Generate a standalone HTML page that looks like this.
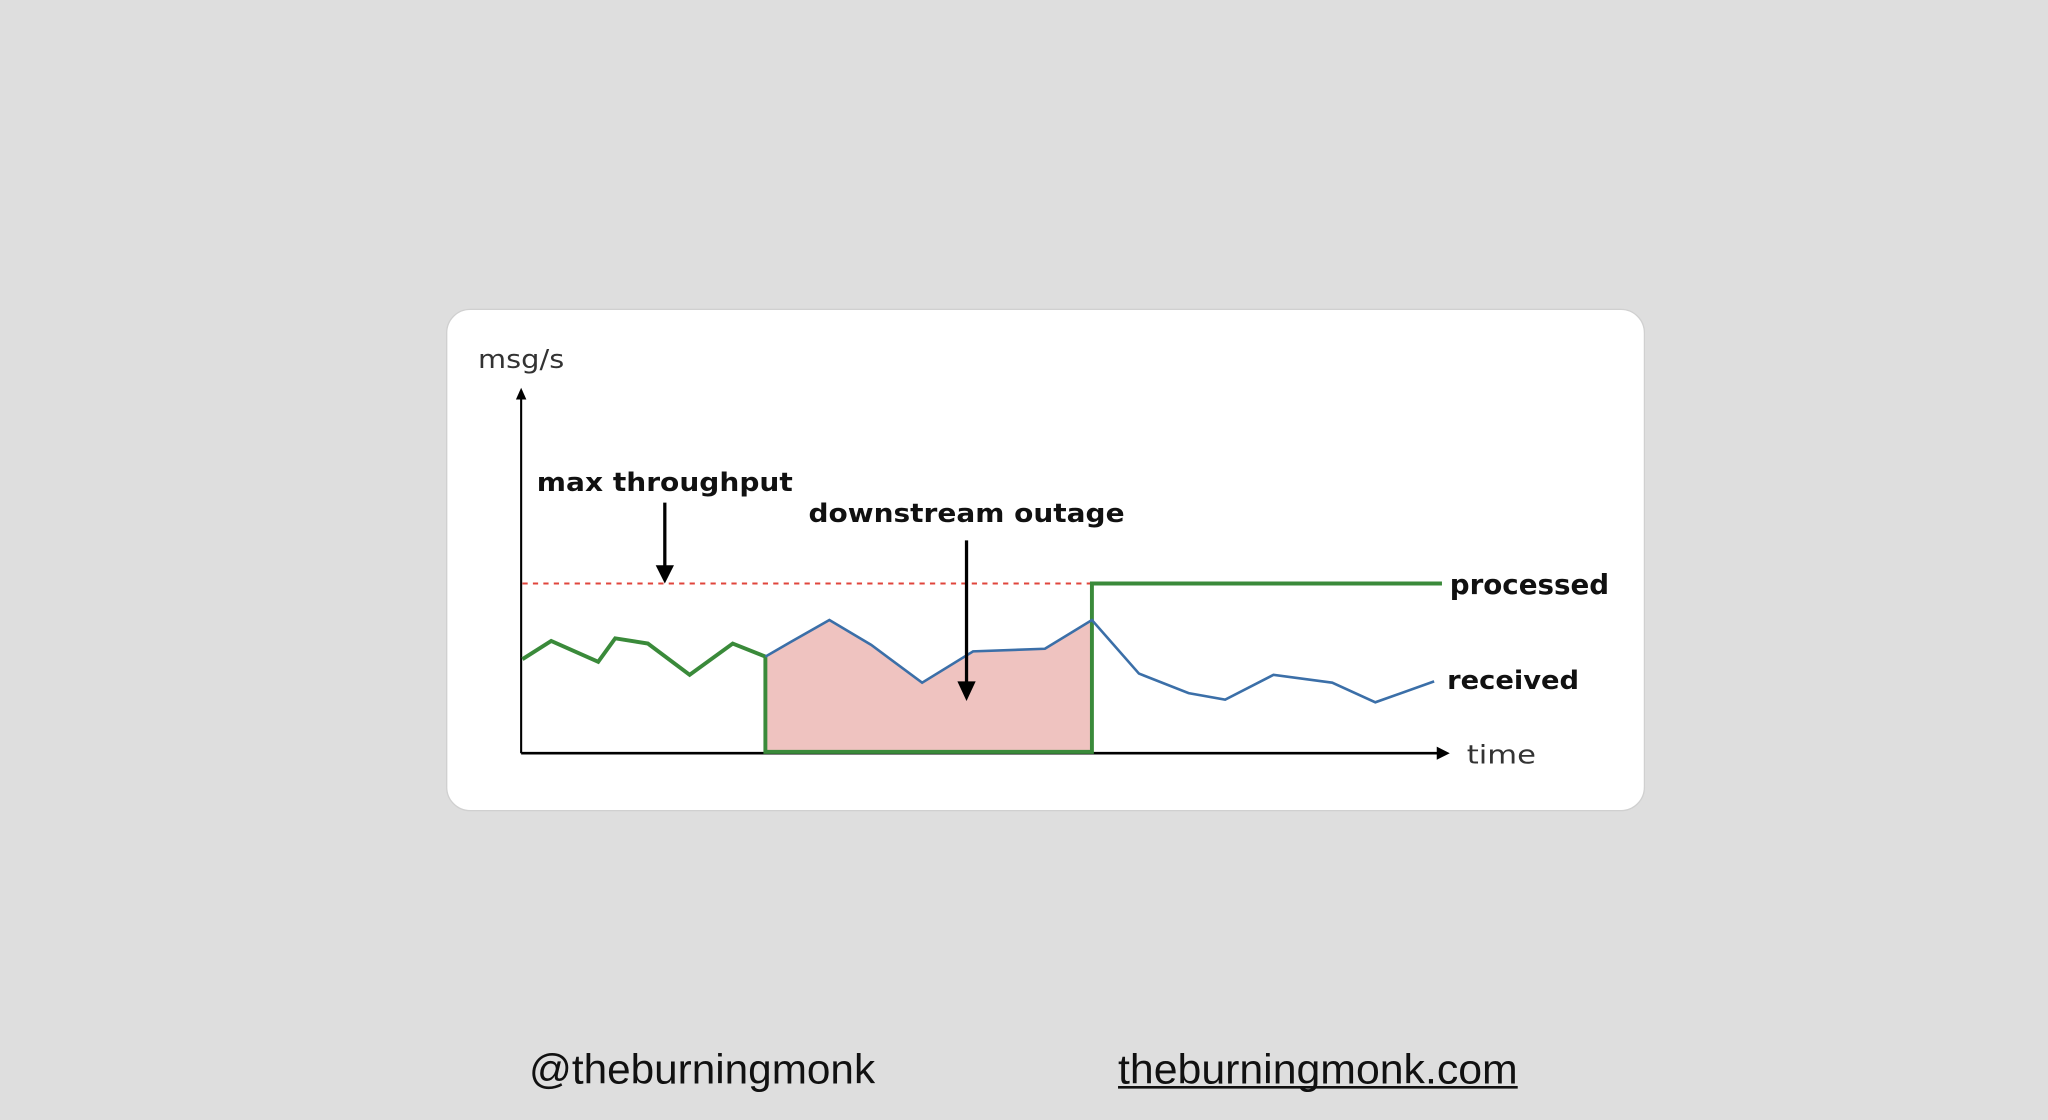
<!DOCTYPE html>
<html><head><meta charset="utf-8"><style>
html,body{margin:0;padding:0;background:#dedede;width:2048px;height:1120px;overflow:hidden}
svg{display:block}
text{font-family:"DejaVu Sans","Liberation Sans",sans-serif}
</style></head><body>
<svg width="2048" height="1120" viewBox="0 0 1568 858" preserveAspectRatio="none">
<rect x="0" y="0" width="1568" height="858" fill="#dedede"/>
<rect x="342" y="237" width="917" height="384" rx="18" fill="#ffffff" stroke="#d0d0d0" stroke-width="1"/>
<polygon points="586,503 605,492 635,475 667,494 706,523 745,499 800,497 836,475 836,577 586,577" fill="#efc3c0"/>
<line x1="399" y1="577" x2="1102" y2="577" stroke="#000" stroke-width="2"/>
<polygon points="1110,577 1100,572 1100,582" fill="#000"/>
<line x1="399" y1="577" x2="399" y2="304" stroke="#000" stroke-width="1.6"/>
<polygon points="399,297 395,306 403,306" fill="#000"/>
<line x1="400" y1="447" x2="836" y2="447" stroke="#e0453c" stroke-width="1.6" stroke-dasharray="4,4"/>
<polyline points="400,505 422,491 458,507 471,489 496,493 528,517 561,493 586,503" fill="none" stroke="#3a8a3a" stroke-width="3"/>
<polyline points="586,503 586,576 836,576 836,447 1104,447" fill="none" stroke="#3a8a3a" stroke-width="3"/>
<polyline points="586,503 605,492 635,475 667,494 706,523 745,499 800,497 836,475 872,516 910,531 938,536 975,517 1020,523 1053,538 1098,522" fill="none" stroke="#3b6fa8" stroke-width="2"/>
<line x1="509" y1="385" x2="509" y2="436" stroke="#000" stroke-width="2.5"/>
<polygon points="509,447 502,433 516,433" fill="#000"/>
<line x1="740" y1="414" x2="740" y2="524" stroke="#000" stroke-width="2.5"/>
<polygon points="740,537 733,522 747,522" fill="#000"/>
<text x="366" y="282" font-size="20" fill="#333" textLength="66" lengthAdjust="spacingAndGlyphs">msg/s</text>
<text x="411" y="376" font-size="20" font-weight="bold" fill="#111" textLength="196" lengthAdjust="spacingAndGlyphs">max throughput</text>
<text x="619" y="400" font-size="20" font-weight="bold" fill="#111" textLength="242" lengthAdjust="spacingAndGlyphs">downstream outage</text>
<text x="1110" y="455" font-size="21" font-weight="bold" fill="#111" textLength="122" lengthAdjust="spacingAndGlyphs">processed</text>
<text x="1108" y="528" font-size="20" font-weight="bold" fill="#111" textLength="101" lengthAdjust="spacingAndGlyphs">received</text>
<text x="1123" y="585" font-size="20" fill="#333" textLength="53" lengthAdjust="spacingAndGlyphs">time</text>
<text x="405" y="830" font-size="32" fill="#111" style="font-family:'Liberation Sans',sans-serif" textLength="265" lengthAdjust="spacingAndGlyphs">@theburningmonk</text>
<text x="856" y="830" font-size="32" fill="#111" style="font-family:'Liberation Sans',sans-serif" textLength="306" lengthAdjust="spacingAndGlyphs">theburningmonk.com</text>
<line x1="856" y1="833" x2="1162" y2="833" stroke="#111" stroke-width="2"/>
</svg>
</body></html>
